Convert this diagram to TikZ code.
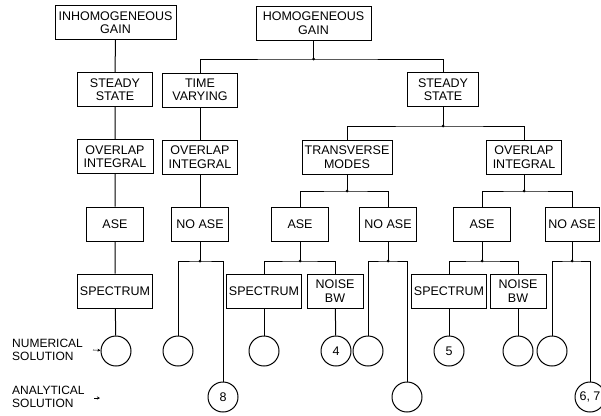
\documentclass[tikz,border=0pt]{standalone}
\usepackage{fontspec}
\setmainfont{Liberation Sans}
\usetikzlibrary{arrows.meta}
\begin{document}
\begin{tikzpicture}[x=1pt,y=-1pt,
  box/.style={draw,line width=1pt,minimum height=34pt,inner sep=2pt,align=center,font=\fontsize{12.5}{13.5}\selectfont},
  res/.style={draw,circle,line width=1pt,minimum size=30pt,inner sep=0pt,font=\fontsize{12.5}{13.5}\selectfont},
  wire/.style={line width=1pt},
  jdot/.style={circle,fill,inner sep=0pt,minimum size=3pt},
  lbl/.style={align=left,anchor=west,font=\fontsize{12}{13}\selectfont,inner sep=0pt},
  marker/.style={line width=0.6pt,-{Stealth[length=3pt,width=3pt]}}]
\useasboundingbox (0,0) rectangle (601,415);
% row 1
\node[box,minimum width=121pt] (inh) at (115.5,22.5) {INHOMOGENEOUS\\GAIN};
\node[box,minimum width=115pt] (hom) at (313.5,23) {HOMOGENEOUS\\GAIN};
% row 2
\node[box,minimum width=75pt] (ssl) at (115,89.5) {STEADY\\STATE};
\node[box,minimum width=75pt] (tv) at (200,90) {TIME\\VARYING};
\node[box,minimum width=71pt] (ssr) at (443,89.5) {STEADY\\STATE};
% row 3
\node[box,minimum width=76pt] (ovl) at (115,156.5) {OVERLAP\\INTEGRAL};
\node[box,minimum width=75pt] (ov2) at (200,157) {OVERLAP\\INTEGRAL};
\node[box,minimum width=90pt] (tm) at (347,157) {TRANSVERSE\\MODES};
\node[box,minimum width=75pt] (ovr) at (524,157) {OVERLAP\\INTEGRAL};
% row 4
\node[box,minimum width=57pt] (asel) at (115,224) {ASE};
\node[box,minimum width=57pt] (na1) at (200,224) {NO ASE};
\node[box,minimum width=57pt] (asem) at (300,224) {ASE};
\node[box,minimum width=57pt] (nam) at (388,224) {NO ASE};
\node[box,minimum width=57pt] (aser) at (482,224) {ASE};
\node[box,minimum width=54pt] (nar) at (572,224) {NO ASE};
% row 5
\node[box,minimum width=75pt] (spl) at (115,291) {SPECTRUM};
\node[box,minimum width=73pt] (spm) at (264,291) {SPECTRUM};
\node[box,minimum width=56pt] (nbm) at (335,291) {NOISE\\BW};
\node[box,minimum width=72pt] (spr) at (449,291) {SPECTRUM};
\node[box,minimum width=56pt] (nbr) at (518,291) {NOISE\\BW};
% result circles
\node[res] (c1) at (116,351) {};
\node[res] (c2) at (178,351) {};
\node[res] (c3) at (264,351) {};
\node[res] (c4) at (336,351) {4};
\node[res] (c5) at (368,351) {};
\node[res] (c6) at (449,351) {5};
\node[res] (c7) at (518,351) {};
\node[res] (c8) at (552,351) {};
\node[res] (a1) at (223,397) {8};
\node[res] (a2) at (407,397) {};
\node[res] (a3) at (590,397) {6, 7};
% junctions
\node[jdot] (j0) at (313.5,59) {};
\node[jdot] (j1) at (443,126) {};
\node[jdot] (j2) at (347,191) {};
\node[jdot] (j3) at (524,191) {};
\node[jdot] (j4) at (300,261) {};
\node[jdot] (j5) at (200,261) {};
\node[jdot] (j6) at (388,261) {};
\node[jdot] (j7) at (482,261) {};
\node[jdot] (j8) at (572,261) {};
% connectors
\draw[wire] (inh) -- (ssl) -- (ovl) -- (asel) -- (spl) -- (c1);
\draw[wire] (hom) -- (j0.center);
\draw[wire] (tv.north) |- (j0.center) -| (ssr.north);
\draw[wire] (tv) -- (ov2) -- (na1);
\draw[wire] (na1) -- (j5.center);
\draw[wire] (c2.north) |- (j5.center) -| (a1.north);
\draw[wire] (ssr) -- (j1.center);
\draw[wire] (tm.north) |- (j1.center) -| (ovr.north);
\draw[wire] (tm) -- (j2.center);
\draw[wire] (asem.north) |- (j2.center) -| (nam.north);
\draw[wire] (ovr) -- (j3.center);
\draw[wire] (aser.north) |- (j3.center) -| (nar.north);
\draw[wire] (asem) -- (j4.center);
\draw[wire] (spm.north) |- (j4.center) -| (nbm.north);
\draw[wire] (nam) -- (j6.center);
\draw[wire] (c5.north) |- (j6.center) -| (a2.north);
\draw[wire] (aser) -- (j7.center);
\draw[wire] (spr.north) |- (j7.center) -| (nbr.north);
\draw[wire] (nar) -- (j8.center);
\draw[wire] (c8.north) |- (j8.center) -| (a3.north);
\draw[wire] (spm) -- (c3);
\draw[wire] (nbm) -- (c4);
\draw[wire] (spr) -- (c6);
\draw[wire] (nbr) -- (c7);
% legend
\node[lbl] (num) at (12,350) {NUMERICAL\\SOLUTION};
\node[lbl] (ana) at (12,397) {ANALYTICAL\\SOLUTION};
\coordinate (m0) at (93,350);
\draw[marker] (m0) -- (c1);
\coordinate (m1) at (94,398);
\coordinate (m2) at (100,398);
\draw[marker] (m1) -- (m2);
\end{tikzpicture}
\end{document}
